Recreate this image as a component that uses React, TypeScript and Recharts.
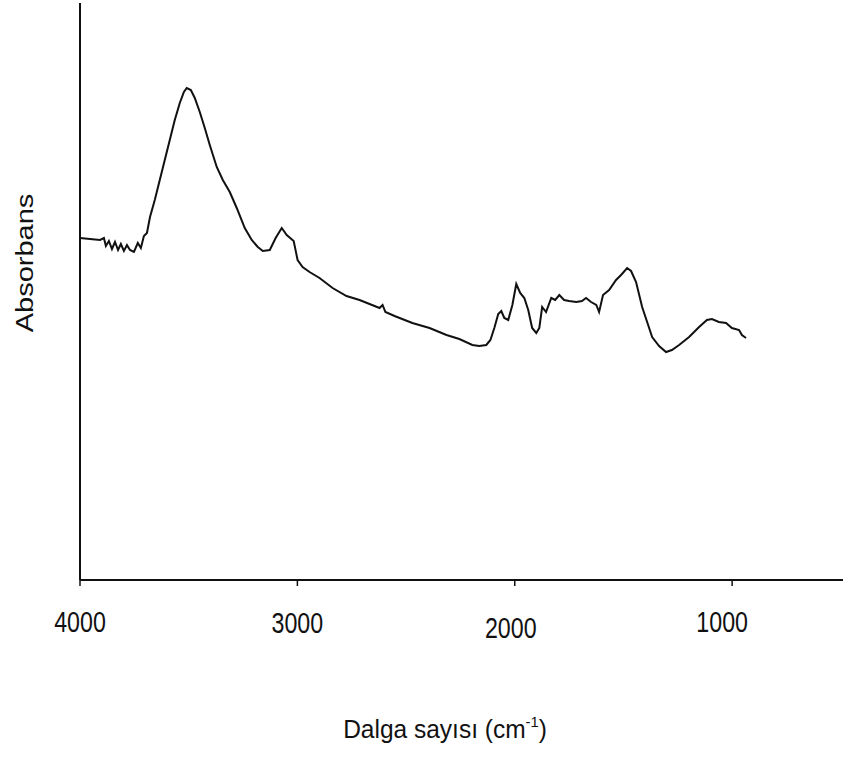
import React from "react";
import { LineChart, Line, XAxis, YAxis, Label } from "recharts";

// IR spectrum: wavenumber (cm-1) vs. absorbance (arbitrary units)
const wavenumbers = [
  4000, 3954, 3908, 3890, 3881, 3867, 3853, 3839, 3825, 3812, 3798, 3784, 3770,
  3752, 3734, 3720, 3706, 3692, 3678, 3656, 3633, 3610, 3587, 3564, 3541, 3522,
  3509, 3490, 3472, 3449, 3426, 3403, 3371, 3343, 3311, 3279, 3242, 3210, 3182,
  3159, 3127, 3100, 3072, 3049, 3017, 2999, 2976, 2944, 2898, 2838, 2774, 2714,
  2668, 2622, 2608, 2595, 2553, 2471, 2392, 2314, 2255, 2195, 2163, 2131, 2112,
  2094, 2076, 2062, 2048, 2030, 2011, 1993, 1975, 1956, 1938, 1920, 1901, 1887,
  1874, 1856, 1832, 1814, 1795, 1773, 1750, 1717, 1691, 1672, 1649, 1625, 1612,
  1594, 1566, 1534, 1511, 1483, 1465, 1442, 1414, 1391, 1368, 1336, 1304, 1277,
  1244, 1198, 1152, 1116, 1093, 1061, 1028, 1001, 968, 955, 936,
];

const absorbance = [
  0.68, 0.678, 0.676, 0.68, 0.664, 0.674, 0.658, 0.672, 0.656, 0.668, 0.654,
  0.666, 0.656, 0.652, 0.67, 0.66, 0.684, 0.69, 0.722, 0.756, 0.796, 0.836,
  0.876, 0.916, 0.95, 0.972, 0.98, 0.976, 0.96, 0.932, 0.9, 0.866, 0.822, 0.796,
  0.772, 0.74, 0.7, 0.676, 0.662, 0.654, 0.656, 0.68, 0.7, 0.686, 0.674, 0.636,
  0.622, 0.612, 0.6, 0.58, 0.564, 0.556, 0.548, 0.54, 0.546, 0.532, 0.524, 0.51,
  0.5, 0.486, 0.478, 0.466, 0.464, 0.466, 0.476, 0.5, 0.528, 0.534, 0.52, 0.516,
  0.546, 0.588, 0.57, 0.56, 0.536, 0.5, 0.49, 0.5, 0.542, 0.532, 0.56, 0.556,
  0.566, 0.556, 0.554, 0.552, 0.554, 0.56, 0.552, 0.546, 0.532, 0.566, 0.576,
  0.596, 0.606, 0.62, 0.614, 0.592, 0.542, 0.512, 0.482, 0.464, 0.452, 0.456,
  0.466, 0.482, 0.502, 0.516, 0.518, 0.512, 0.51, 0.5, 0.496, 0.486, 0.48,
];

const xTicks = [4000, 3000, 2000, 1000];

const spectrum = wavenumbers.map((w, i) => ({ w, a: absorbance[i] }));

const FONT = '"Liberation Sans", Arial, sans-serif';

// small nudges so the tick labels sit where the old plot put them
const tickNudge: Record<number, { dx: number; dy: number }> = {
  4000: { dx: 0, dy: 0 },
  3000: { dx: 0, dy: 1 },
  2000: { dx: -4, dy: 6 },
  1000: { dx: -10, dy: 0 },
};

function WaveTick(props: any) {
  const { x, y, payload } = props;
  const n = tickNudge[payload.value] ?? { dx: 0, dy: 0 };
  return (
    <text
      transform={`translate(${x + n.dx},${y + 44 + n.dy}) scale(0.8,1)`}
      textAnchor="middle"
      fontFamily={FONT}
      fontSize={29}
      fill="#111"
    >
      {payload.value}
    </text>
  );
}

function XTitle() {
  return (
    <text
      transform="translate(445,738) scale(0.98,1)"
      textAnchor="middle"
      fontFamily={FONT}
      fontSize={25}
      fill="#111"
    >
      Dalga sayısı (cm
      <tspan fontSize={15} dy={-11}>
        -1
      </tspan>
      <tspan dy={11}>)</tspan>
    </text>
  );
}

function YTitle() {
  return (
    <text
      transform="translate(33,263) rotate(-90) scale(1,0.8)"
      textAnchor="middle"
      fontFamily={FONT}
      fontSize={29}
      fill="#111"
    >
      Absorbans
    </text>
  );
}

export default function App() {
  return (
    <div style={{ position: "absolute", left: 0, top: 0, background: "#fff" }}>
      <LineChart
        width={843}
        height={758}
        data={spectrum}
        margin={{ top: 3, right: 0, bottom: 148, left: 0 }}
      >
        <XAxis
          dataKey="w"
          type="number"
          domain={[490, 4000]}
          reversed
          ticks={xTicks}
          interval={0}
          height={30}
          tickSize={6}
          tick={<WaveTick />}
          axisLine={{ stroke: "#111", strokeWidth: 2 }}
          tickLine={{ stroke: "#111", strokeWidth: 1.5 }}
        >
          <Label content={<XTitle />} />
        </XAxis>
        <YAxis
          type="number"
          domain={[-0.004, 1.15]}
          width={80}
          tick={false}
          tickLine={false}
          axisLine={{ stroke: "#111", strokeWidth: 2 }}
        >
          <Label content={<YTitle />} />
        </YAxis>
        <Line
          type="linear"
          dataKey="a"
          stroke="#111"
          strokeWidth={2}
          dot={false}
          isAnimationActive={false}
        />
      </LineChart>
    </div>
  );
}
